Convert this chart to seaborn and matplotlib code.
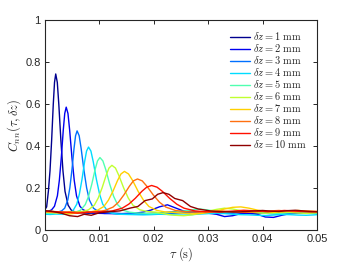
import numpy as np
import pandas as pd
import matplotlib
matplotlib.use("Agg")
import matplotlib.pyplot as plt
import seaborn as sns

# ---------------- data ----------------
labels = [r"$\delta z = %d\ \mathrm{mm}$" % k for k in range(1, 11)]
colors = ["#00008f", "#0000f0", "#0070ff", "#00dcff", "#50ffb0",
          "#c0ff30", "#ffd000", "#ff7010", "#ff1000", "#900000"]

tau_1 = [0, 0.0003, 0.00062, 0.00092, 0.00122, 0.00152, 0.00175, 0.00197, 0.00226, 0.00254, 0.00292, 0.0033,
         0.00368, 0.00425, 0.00482, 0.00558,
         0.0065, 0.008, 0.0095, 0.011, 0.0125, 0.014, 0.0155, 0.017, 0.0185, 0.020, 0.0215, 0.023, 0.0245,
         0.026, 0.0275, 0.029, 0.0305, 0.032, 0.0335, 0.035, 0.0365, 0.038, 0.0395, 0.041, 0.0425, 0.044, 0.0455,
         0.047, 0.0485, 0.050]
c_1 = [0.098, 0.110, 0.184, 0.282, 0.427, 0.598, 0.703, 0.743, 0.703, 0.598, 0.427, 0.282, 0.184, 0.118, 0.095, 0.085,
       0.082, 0.080, 0.081, 0.079, 0.080, 0.078, 0.079, 0.077, 0.078, 0.080, 0.082, 0.085, 0.088, 0.090, 0.087,
       0.084, 0.080, 0.078, 0.081, 0.083, 0.080, 0.078, 0.080, 0.083, 0.085, 0.082, 0.080, 0.083, 0.086, 0.084]

tau_2 = [0, 0.00048, 0.0012, 0.00174, 0.00228, 0.00264, 0.003, 0.00336, 0.00363, 0.0039, 0.00422, 0.00453,
         0.00495, 0.00537, 0.00579, 0.00642, 0.00705, 0.00789,
         0.009, 0.0105, 0.012, 0.0135, 0.015, 0.0165, 0.018, 0.0195, 0.021, 0.0225, 0.024, 0.0255, 0.027,
         0.0285, 0.030, 0.0315, 0.033, 0.0345, 0.036, 0.0375, 0.039, 0.0405, 0.042, 0.0435, 0.045, 0.0465, 0.048,
         0.0495, 0.05]
c_2 = [0.090, 0.088, 0.0955, 0.113, 0.163, 0.237, 0.346, 0.476, 0.555, 0.585, 0.555, 0.476, 0.346, 0.237, 0.163,
       0.113, 0.0955, 0.088,
       0.080, 0.079, 0.078, 0.077, 0.078, 0.080, 0.085, 0.095, 0.110, 0.120, 0.105, 0.090, 0.085, 0.082, 0.080,
       0.075, 0.064, 0.068, 0.078, 0.080, 0.075, 0.062, 0.060, 0.070, 0.078, 0.080, 0.082, 0.080, 0.079]

tau_3 = [0, 0.0008, 0.0016, 0.00229, 0.00305, 0.00362, 0.00419, 0.00457, 0.00495, 0.00533, 0.00562, 0.0059,
         0.00628, 0.00665, 0.00715, 0.00765, 0.00815, 0.0089, 0.00965, 0.01065,
         0.012, 0.0135, 0.015, 0.0165, 0.018, 0.0195, 0.021, 0.0225, 0.024, 0.0255, 0.027, 0.0285, 0.030,
         0.0315, 0.033, 0.0345, 0.036, 0.0375, 0.039, 0.0405, 0.042, 0.0435, 0.045, 0.0465, 0.048, 0.0495, 0.05]
c_3 = [0.085, 0.083, 0.087, 0.085, 0.0908, 0.104, 0.143, 0.201, 0.286, 0.387, 0.449, 0.472, 0.449, 0.387, 0.286,
       0.201, 0.143, 0.104, 0.0908, 0.085,
       0.080, 0.078, 0.077, 0.078, 0.076, 0.075, 0.076, 0.078, 0.080, 0.082, 0.084, 0.086, 0.088, 0.085, 0.082,
       0.080, 0.083, 0.086, 0.084, 0.080, 0.077, 0.075, 0.078, 0.081, 0.083, 0.082, 0.080]

tau_4 = [0, 0.001, 0.002, 0.00344, 0.0044, 0.00512, 0.00584, 0.00632, 0.0068, 0.00728, 0.00764, 0.008, 0.00844,
         0.00887, 0.00945, 0.01003, 0.01061, 0.01148, 0.01235, 0.01351,
         0.015, 0.0165, 0.018, 0.0195, 0.021, 0.0225, 0.024, 0.0255, 0.027, 0.0285, 0.030, 0.0315, 0.033,
         0.0345, 0.036, 0.0375, 0.039, 0.0405, 0.042, 0.0435, 0.045, 0.0465, 0.048, 0.0495, 0.05]
c_4 = [0.075, 0.074, 0.076, 0.075, 0.0798, 0.091, 0.123, 0.171, 0.241, 0.325, 0.376, 0.395, 0.376, 0.325, 0.241,
       0.171, 0.123, 0.091, 0.0798, 0.075,
       0.074, 0.073, 0.072, 0.073, 0.075, 0.074, 0.072, 0.071, 0.073, 0.076, 0.078, 0.080, 0.078, 0.075, 0.073,
       0.072, 0.070, 0.069, 0.071, 0.074, 0.073, 0.071, 0.070, 0.072, 0.073]

tau_5 = [0, 0.0015, 0.003, 0.0044, 0.0056, 0.0065, 0.0074, 0.008, 0.0086, 0.0092, 0.00965, 0.0101, 0.01064,
         0.01118, 0.0119, 0.01262, 0.01334, 0.01442, 0.0155, 0.01694,
         0.018, 0.0195, 0.021, 0.0225, 0.024, 0.0255, 0.027, 0.0285, 0.030, 0.0315, 0.033, 0.0345, 0.036,
         0.0375, 0.039, 0.0405, 0.042, 0.0435, 0.045, 0.0465, 0.048, 0.0495, 0.05]
c_5 = [0.080, 0.079, 0.082, 0.081, 0.085, 0.094, 0.121, 0.160, 0.218, 0.287, 0.329, 0.345, 0.329, 0.287, 0.218,
       0.160, 0.121, 0.094, 0.085, 0.081,
       0.080, 0.078, 0.080, 0.083, 0.086, 0.090, 0.096, 0.100, 0.095, 0.088, 0.085, 0.088, 0.092, 0.088, 0.084,
       0.081, 0.079, 0.080, 0.083, 0.085, 0.083, 0.081, 0.080]

tau_6 = [0, 0.0015, 0.003, 0.0045, 0.00546, 0.0069, 0.00798, 0.00906, 0.00978, 0.0105, 0.01122, 0.01176, 0.0123,
         0.01295, 0.01359, 0.01445, 0.01531, 0.01617, 0.01746, 0.01875, 0.02047,
         0.0225, 0.024, 0.0255, 0.027, 0.0285, 0.030, 0.0315, 0.033, 0.0345, 0.036, 0.0375, 0.039,
         0.0405, 0.042, 0.0435, 0.045, 0.0465, 0.048, 0.0495, 0.05]
c_6 = [0.090, 0.088, 0.085, 0.083, 0.085, 0.0883, 0.096, 0.118, 0.152, 0.201, 0.259, 0.295, 0.308, 0.295, 0.259,
       0.201, 0.152, 0.118, 0.096, 0.0883, 0.085,
       0.074, 0.070, 0.068, 0.072, 0.080, 0.090, 0.098, 0.104, 0.100, 0.092, 0.086, 0.082, 0.080, 0.083,
       0.086, 0.084, 0.081, 0.079, 0.081, 0.083]

tau_7 = [0, 0.0015, 0.003, 0.0045, 0.0055, 0.00662, 0.0083, 0.00956, 0.01082, 0.01166, 0.0125, 0.01334, 0.01397,
         0.0146, 0.01535, 0.0161, 0.0171, 0.0181, 0.0191, 0.0206, 0.0221, 0.0241,
         0.0255, 0.027, 0.0285, 0.030, 0.0315, 0.033, 0.0345, 0.036, 0.0375, 0.039, 0.0405, 0.042, 0.0435,
         0.045, 0.0465, 0.048, 0.0495, 0.05]
c_7 = [0.085, 0.083, 0.080, 0.076, 0.080, 0.083, 0.086, 0.093, 0.112, 0.142, 0.185, 0.236, 0.267, 0.279, 0.267,
       0.236, 0.185, 0.142, 0.112, 0.093, 0.086, 0.083,
       0.080, 0.077, 0.078, 0.083, 0.090, 0.100, 0.108, 0.110, 0.104, 0.095, 0.088, 0.084, 0.086, 0.090,
       0.093, 0.090, 0.086, 0.084]

tau_8 = [0, 0.0015, 0.003, 0.0045, 0.006, 0.0075, 0.0095, 0.011, 0.0125, 0.0135, 0.0145, 0.0155, 0.01625, 0.017,
         0.01787, 0.01874, 0.0199, 0.02106, 0.02222, 0.02396, 0.0257, 0.02802,
         0.0295, 0.031, 0.0325, 0.034, 0.0355, 0.037, 0.0385, 0.040, 0.0415, 0.043, 0.0445, 0.046, 0.0475,
         0.049, 0.05]
c_8 = [0.088, 0.085, 0.083, 0.087, 0.084, 0.085, 0.0874, 0.093, 0.109, 0.132, 0.167, 0.208, 0.234, 0.243, 0.234,
       0.208, 0.167, 0.132, 0.109, 0.093, 0.0874, 0.085,
       0.086, 0.089, 0.091, 0.088, 0.085, 0.084, 0.086, 0.089, 0.091, 0.093, 0.090, 0.087, 0.089, 0.090, 0.089]

tau_9 = [0, 0.0015, 0.003, 0.0045, 0.006, 0.0082, 0.0106, 0.0124, 0.0142, 0.0154, 0.0166, 0.0178, 0.0187, 0.0196,
         0.02059, 0.02158, 0.0229, 0.02422, 0.02554, 0.02752, 0.0295, 0.03214,
         0.0335, 0.035, 0.0365, 0.038, 0.0395, 0.041, 0.0425, 0.044, 0.0455, 0.047, 0.0485, 0.05]
c_9 = [0.090, 0.088, 0.086, 0.083, 0.080, 0.085, 0.087, 0.091, 0.104, 0.123, 0.151, 0.184, 0.204, 0.212, 0.204,
       0.184, 0.151, 0.123, 0.104, 0.091, 0.087, 0.085,
       0.088, 0.091, 0.094, 0.092, 0.089, 0.087, 0.090, 0.093, 0.091, 0.088, 0.086, 0.087]

tau_10 = [0, 0.0015, 0.003, 0.0045, 0.006, 0.0072, 0.0085, 0.0100, 0.0118, 0.01378, 0.01576, 0.01708, 0.0184,
          0.01972, 0.02071, 0.0217, 0.02278, 0.02386, 0.0253, 0.02674, 0.02818, 0.03034, 0.0325, 0.03538,
          0.037, 0.0385, 0.040, 0.0415, 0.043, 0.0445, 0.046, 0.0475, 0.049, 0.05]
c_10 = [0.092, 0.088, 0.080, 0.068, 0.064, 0.075, 0.070, 0.082, 0.087, 0.091, 0.105, 0.112, 0.140, 0.148, 0.170,
        0.178, 0.170, 0.150, 0.140, 0.112, 0.100, 0.091, 0.087, 0.086,
        0.088, 0.091, 0.093, 0.090, 0.088, 0.092, 0.094, 0.091, 0.088, 0.087]

taus = [tau_1, tau_2, tau_3, tau_4, tau_5, tau_6, tau_7, tau_8, tau_9, tau_10]
cs = [c_1, c_2, c_3, c_4, c_5, c_6, c_7, c_8, c_9, c_10]

x_ticks = [0, 0.01, 0.02, 0.03, 0.04, 0.05]
x_ticklabels = ["0", "0.01", "0.02", "0.03", "0.04", "0.05"]
y_ticks = [0, 0.2, 0.4, 0.6, 0.8, 1.0]
y_ticklabels = ["0", "0.2", "0.4", "0.6", "0.8", "1"]

# ---------------- build long-form table ----------------
rows = []
for lab, t, c in zip(labels, taus, cs):
    assert len(t) == len(c), (lab, len(t), len(c))
    for ti, ci in zip(t, c):
        rows.append({"tau": ti, "C": ci, "series": lab})
df = pd.DataFrame(rows)

# ---------------- plot ----------------
sns.set_theme(style="ticks")
plt.rcParams["font.family"] = ["Liberation Sans", "DejaVu Sans"]
plt.rcParams["mathtext.fontset"] = "cm"

fig = plt.figure(figsize=(3.5, 2.63), dpi=100)
ax = fig.add_axes([45 / 350, 1 - 230 / 263, (317 - 45) / 350, (230 - 20) / 263])

sns.lineplot(data=df, x="tau", y="C", hue="series", hue_order=labels, palette=colors,
             estimator=None, sort=False, units="series", linewidth=1.0, ax=ax, legend=True)

ax.set_xlim(0, 0.05)
ax.set_ylim(0, 1)
ax.set_xticks(x_ticks)
ax.set_xticklabels(x_ticklabels)
ax.set_yticks(y_ticks)
ax.set_yticklabels(y_ticklabels)
ax.tick_params(direction="in", length=3, width=0.7, top=True, right=True,
               labelsize=8, colors="#262626", pad=3)
for sp in ax.spines.values():
    sp.set_linewidth(0.8)
    sp.set_color("#262626")
    sp.set_visible(True)

ax.set_xlabel(r"$\tau\ \mathrm{(s)}$", fontsize=9, color="#262626", labelpad=1)
ax.set_ylabel(r"$C_{nn}(\tau,\delta z)$", fontsize=9, color="#262626", labelpad=2)

handles, labs = ax.get_legend_handles_labels()
leg = ax.legend(handles, labs, frameon=False, fontsize=7.5, loc="upper right",
                bbox_to_anchor=(1.0, 1.0), handlelength=1.9, handletextpad=0.3,
                labelspacing=0.0, borderaxespad=0.6)
for line in leg.get_lines():
    line.set_linewidth(1.0)

fig.savefig("out.png", dpi=100)
